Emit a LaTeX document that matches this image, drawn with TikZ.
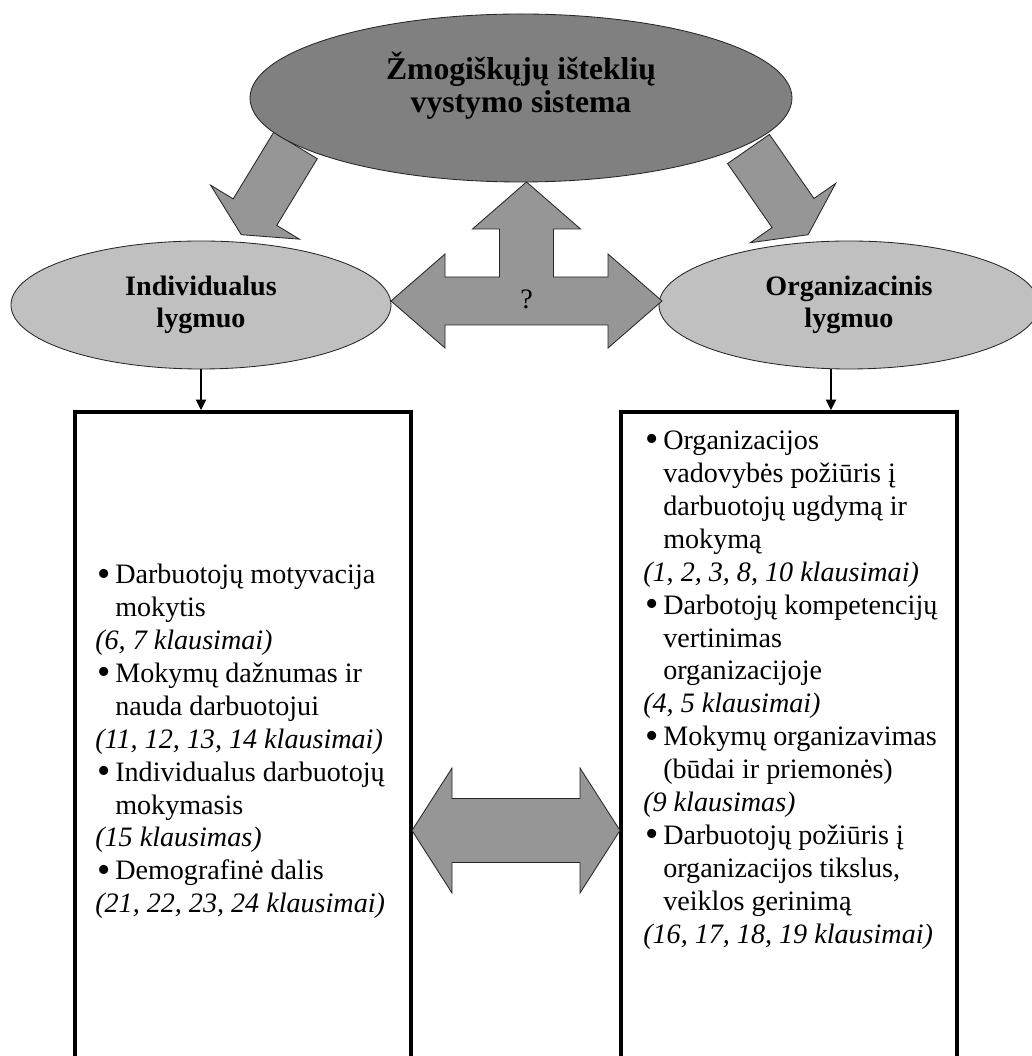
\documentclass[tikz,border=0pt]{standalone}
\usepackage{fontspec}
\setmainfont{Liberation Serif}
\usetikzlibrary{shapes, arrows.meta, positioning}

\definecolor{darkgr}{HTML}{808080}
\definecolor{lightgr}{HTML}{C0C0C0}
\definecolor{arrowgr}{HTML}{969696}

\newcommand{\bul}[1]{\makebox[0.5cm][l]{\hspace{0.05cm}\raisebox{-0.08em}{\scalebox{1.35}{\textbullet}}}#1}
\newcommand{\cnt}[1]{\hspace*{0.5cm}#1}
\newcommand{\kl}[1]{\textit{(#1)}}

\begin{document}
\begin{tikzpicture}[
		topell/.style={ellipse, draw=black!85, fill=darkgr, line width=0.6pt, inner sep=0pt, minimum width=13.55cm, minimum height=4.2cm},
		sideell/.style={ellipse, draw=black!85, fill=lightgr, line width=0.6pt, inner sep=0pt, minimum width=9.5cm, minimum height=3.2cm, align=center, font=\fontsize{20}{23.2}\selectfont\bfseries},
		titletxt/.style={align=center, inner sep=0pt, font=\fontsize{22.5}{23.5}\selectfont\bfseries},
		blockarrow/.style={draw=black!85, fill=arrowgr, line width=0.6pt, line join=miter},
		listbox/.style={draw, line width=2.6pt, minimum height=17.5cm, inner sep=0pt},
		listtxt/.style={align=left, inner sep=0pt, font=\fontsize{20}{23.4}\selectfont},
		smallarrow/.style={-{Triangle[length=2.6mm,width=2.6mm]}, line width=0.8pt}
	]
	\useasboundingbox (0,0) rectangle (25.8,26.4);

	% istrižos rodyklės
	\foreach \x/\y/\a in {7.3875/22.7625/238.7, 18.7125/22.675/-55.2}
		\draw[blockarrow, shift={(\x,\y)}, rotate=\a] (0,-0.6375) -- (1.95,-0.6375) -- (1.95,-1.3) -- (2.61,0) -- (1.95,1.3) -- (1.95,0.6375) -- (0,0.6375) -- cycle;

	\node[topell] (sys) at (13.025,23.95) {};
	\node[titletxt] (systxt) at ([yshift=0.3cm]sys.center) {Žmogiškųjų išteklių\\vystymo sistema};

	\node[sideell] (ind) at (5.025,18.775) {Individualus\\lygmuo};
	\node[sideell] (org) at (21.225,18.775) {Organizacinis\\lygmuo};

	% rodyklė su trimis galais
	\begin{scope}[shift={(13.1625,18.875)}]
		\draw[blockarrow] (0,2.975) -- (1.35,1.8) -- (0.675,1.8) -- (0.675,0.6) -- (2.0375,0.6) -- (2.0375,1.175) -- (3.3875,0) -- (2.0375,-1.175) -- (2.0375,-0.6) -- (-2.0375,-0.6) -- (-2.0375,-1.175) -- (-3.3875,0) -- (-2.0375,1.175) -- (-2.0375,0.6) -- (-0.675,0.6) -- (-0.675,1.8) -- (-1.35,1.8) -- cycle;
		\node[font=\fontsize{20}{23.2}\selectfont] (q) at (0,0.05) {?};
	\end{scope}

	\node[listbox, minimum width=8.4cm, anchor=north] (indbox) at (6.075,16.15) {};
	\node[listbox, minimum width=8.4cm, anchor=north] (orgbox) at (19.725,16.15) {};

	\draw[smallarrow] (ind.south) -- (ind.south |- indbox.north);
	\draw[smallarrow] ([xshift=-0.45cm]org.south) -- ([xshift=-0.45cm]org.south |- orgbox.north);

	\node[listtxt, anchor=north west] (indlist) at (2.375,12.3) {%
		\bul{Darbuotojų motyvacija}\\
		\cnt{mokytis}\\
		\kl{6, 7 klausimai}\\
		\bul{Mokymų dažnumas ir}\\
		\cnt{nauda darbuotojui}\\
		\kl{11, 12, 13, 14 klausimai}\\
		\bul{Individualus darbuotojų}\\
		\cnt{mokymasis}\\
		\kl{15 klausimas}\\
		\bul{Demografinė dalis}\\
		\kl{21, 22, 23, 24 klausimai}};

	\node[listtxt, anchor=north west] (orglist) at (16.075,15.63) {%
		\bul{Organizacijos}\\
		\cnt{vadovybės požiūris į}\\
		\cnt{darbuotojų ugdymą ir}\\
		\cnt{mokymą}\\
		\kl{1, 2, 3, 8, 10 klausimai}\\
		\bul{Darbotojų kompetencijų}\\
		\cnt{vertinimas}\\
		\cnt{organizacijoje}\\
		\kl{4, 5 klausimai}\\
		\bul{Mokymų organizavimas}\\
		\cnt{(būdai ir priemonės)}\\
		\kl{9 klausimas}\\
		\bul{Darbuotojų požiūris į}\\
		\cnt{organizacijos tikslus,}\\
		\cnt{veiklos gerinimą}\\
		\kl{16, 17, 18, 19 klausimai}};

	% dvipusė rodyklė tarp stačiakampių
	\begin{scope}[shift={(12.9,5.6375)}]
		\draw[blockarrow] (-2.6,0) -- (-1.6,1.5625) -- (-1.6,0.8) -- (1.6,0.8) -- (1.6,1.5625) -- (2.6,0) -- (1.6,-1.5625) -- (1.6,-0.8) -- (-1.6,-0.8) -- (-1.6,-1.5625) -- cycle;
	\end{scope}
\end{tikzpicture}
\end{document}
